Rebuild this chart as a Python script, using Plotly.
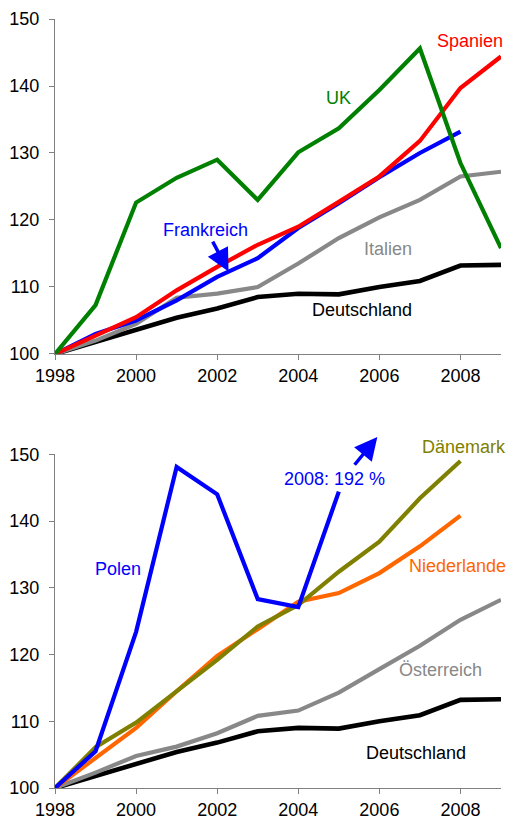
import plotly.graph_objects as go
from plotly.subplots import make_subplots

years = list(range(1998, 2010))

# Top chart
uk = [100, 107.3, 122.6, 126.3, 129.0, 123.0, 130.1, 133.7, 139.4, 145.6, 128.5, 115.8]
spanien = [100, 102.8, 105.5, 109.5, 113.0, 116.3, 119.0, 122.7, 126.5, 131.8, 139.7, 144.4]
frankreich = [100, 103.0, 105.0, 108.0, 111.5, 114.3, 118.8, 122.5, 126.4, 130.0, 133.2]
italien = [100, 102.0, 104.5, 108.4, 109.0, 110.0, 113.5, 117.3, 120.4, 123.0, 126.5, 127.2]
deutschland = [100, 101.8, 103.7, 105.4, 106.8, 108.5, 109.0, 108.9, 110.0, 110.9, 113.2, 113.3]

# Bottom chart
polen = [100, 105.5, 123.4, 148.1, 144.0, 128.3, 127.1, 144.4]
daenemark = [100, 106.1, 109.8, 114.5, 119.2, 124.2, 127.4, 132.4, 136.9, 143.4, 149.0]
niederlande = [100, 104.5, 109.0, 114.5, 119.8, 123.8, 127.9, 129.2, 132.2, 136.2, 140.8]
oesterreich = [100, 102.3, 104.8, 106.2, 108.2, 110.8, 111.6, 114.3, 117.8, 121.3, 125.2, 128.2]

x_ticks = [1998, 2000, 2002, 2004, 2006, 2008]
y_ticks = [100, 110, 120, 130, 140, 150]

FONT = "Liberation Sans, Arial, sans-serif"
FS = 18
LW = 4.2

C_RED = "#FF0000"
C_BLUE = "#0000FF"
C_GREEN = "#008000"
C_GRAY = "#888888"
C_BLACK = "#000000"
C_OLIVE = "#808000"
C_ORANGE = "#FF6600"

fig = make_subplots(rows=2, cols=1, vertical_spacing=0.13)

def add(series, color, row, width=LW):
    fig.add_trace(go.Scatter(x=years[:len(series)], y=series, mode="lines",
                             line=dict(color=color, width=width),
                             showlegend=False, hoverinfo="skip"), row=row, col=1)

add(deutschland, C_BLACK, 1, 4.6)
add(italien, C_GRAY, 1)
add(frankreich, C_BLUE, 1)
add(spanien, C_RED, 1)
add(uk, C_GREEN, 1)

add(deutschland, C_BLACK, 2, 4.6)
add(oesterreich, C_GRAY, 2)
add(niederlande, C_ORANGE, 2)
add(daenemark, C_OLIVE, 2)
add(polen, C_BLUE, 2)

# page body adds an 8px offset, so the figure is sized to fit inside the window
fig.update_layout(
    width=507, height=818,
    margin=dict(l=47, r=14, t=11, b=38, autoexpand=False),
    paper_bgcolor="white", plot_bgcolor="white",
    font=dict(family=FONT, size=FS, color="black"),
)

fig.update_layout(
    yaxis=dict(domain=[0.5644, 1.0]),
    yaxis2=dict(domain=[0.0, 0.434]),
)

fig.update_xaxes(range=[1998, 2009], tickvals=x_ticks, showgrid=False, zeroline=False,
                 showline=True, linecolor="#808080", linewidth=1,
                 ticks="outside", ticklen=5, tickcolor="#808080", automargin=False,
                 tickfont=dict(family=FONT, size=FS, color="black"))
fig.update_yaxes(range=[100, 150], tickvals=y_ticks, showgrid=False, zeroline=False,
                 showline=True, linecolor="#808080", linewidth=1,
                 ticks="outside", ticklen=5, tickcolor="#808080", automargin=False,
                 ticklabelstandoff=6,
                 tickfont=dict(family=FONT, size=FS, color="black"))

def label(text, x, y, color, xref, yref, bg=None):
    fig.add_annotation(text=text, x=x, y=y, xref=xref, yref=yref, showarrow=False,
                       xanchor="left", yanchor="middle",
                       font=dict(family=FONT, size=FS, color=color),
                       bgcolor=bg if bg else "rgba(0,0,0,0)", borderpad=0, borderwidth=0)

label("Spanien", 2007.42, 146.7, C_RED, "x", "y")
label("UK", 2004.69, 138.2, C_GREEN, "x", "y")
label("Frankreich", 2000.66, 118.5, C_BLUE, "x", "y")
label("Italien", 2005.62, 115.6, C_GRAY, "x", "y")
label("Deutschland", 2004.35, 106.5, C_BLACK, "x", "y")

label("Polen", 1998.98, 132.8, C_BLUE, "x2", "y2")
label("2008: 192 %", 2003.64, 146.3, C_BLUE, "x2", "y2", bg="white")
label("Dänemark", 2007.06, 0.443, C_OLIVE, "x2", "paper")
label("Niederlande", 2006.72, 133.2, C_ORANGE, "x2", "y2")
label("Österreich", 2006.48, 117.7, C_GRAY, "x2", "y2")
label("Deutschland", 2005.66, 105.3, C_BLACK, "x2", "y2")

# Arrows
fig.add_annotation(x=2002.28, y=112.3, ax=2001.87, ay=117.0, xref="x", yref="y",
                   axref="x", ayref="y", showarrow=True, arrowhead=2, arrowsize=1.3,
                   arrowwidth=3.5, arrowcolor=C_BLUE, text="")
fig.add_annotation(x=2005.95, y=152.6, ax=2005.36, ay=148.2, xref="x2", yref="y2",
                   axref="x2", ayref="y2", showarrow=True, arrowhead=2, arrowsize=1.3,
                   arrowwidth=3.5, arrowcolor=C_BLUE, text="")

fig.write_html("out.html")
